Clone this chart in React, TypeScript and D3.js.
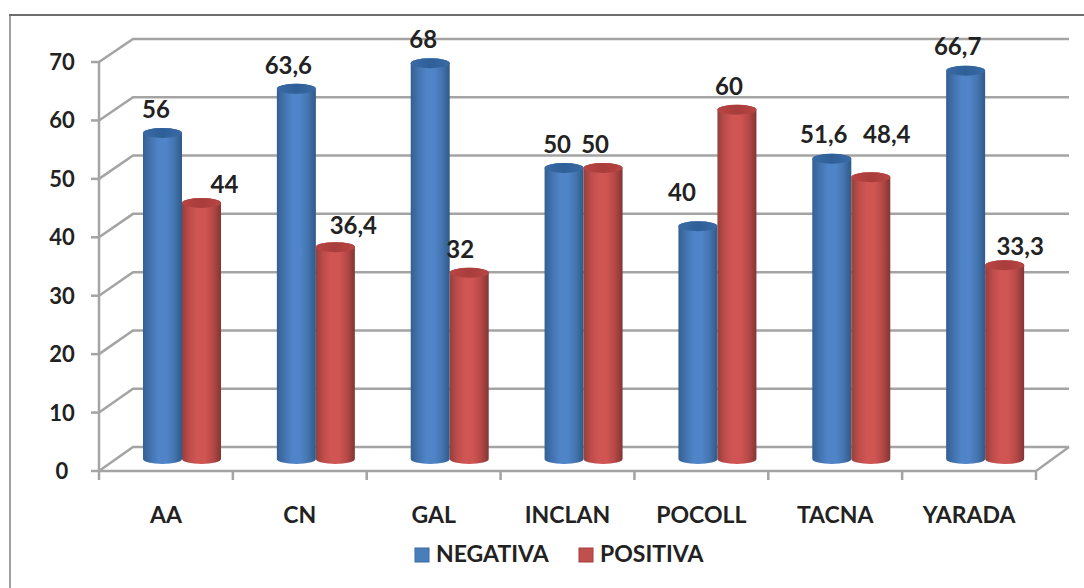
import React from "react";
import * as d3 from "d3";

const categories = ["AA", "CN", "GAL", "INCLAN", "POCOLL", "TACNA", "YARADA"];
const negativa = [56, 63.6, 68, 50, 40, 51.6, 66.7];
const positiva = [44, 36.4, 32, 50, 60, 48.4, 33.3];
const ticks = [0, 10, 20, 30, 40, 50, 60, 70];
const seriesNames = ["NEGATIVA", "POSITIVA"];

// Hand-placed nudges for the value labels, as Excel leaves them [dx, dy].
const negLabelNudge = [[-6.5, -15], [-8, -15], [-7, -15], [-7, -15], [-16, -25], [-8, -16], [-8, -16]];
const posLabelNudge = [[23, -10], [18, -13], [-9, -15], [-8, -15], [-8, -15], [16, -34], [15.5, -10]];

const W = 1084;
const H = 588;

// Front edge of the 3D box, back wall, and the cylinder baseline.
const x = d3.scaleBand<string>().domain(categories).range([99, 1036]);
const yFront = d3.scaleLinear().domain([0, 70]).range([471, 62]);
const yBack = d3.scaleLinear().domain([0, 70]).range([447, 39]);
const yBar = d3.scaleLinear().domain([0, 70]).range([459, 51.6]);

const depthX = 34;
const barW = 39;
const barInset = 44;
const ry = 5;

const GRID = "#a4a4a4";
const INK = "#222222";
const FONT = "Lato, 'Open Sans', sans-serif";

function cylinderBody(x0: number, top: number, base: number) {
  const r = barW / 2;
  return `M${x0},${top} L${x0},${base} A${r},${ry} 0 0 0 ${x0 + barW},${base} L${x0 + barW},${top} A${r},${ry} 0 0 0 ${x0},${top} Z`;
}

function Cylinder({ x0, value, fill, cap }: { x0: number; value: number; fill: string; cap: string }) {
  const top = yBar(value);
  const base = yBar(0);
  return (
    <g>
      <path d={cylinderBody(x0, top, base)} fill={`url(#${fill})`} />
      <ellipse cx={x0 + barW / 2} cy={top} rx={barW / 2} ry={ry} fill={`url(#${cap})`} />
    </g>
  );
}

function Gradient({ id, stops }: { id: string; stops: string[] }) {
  const pos = d3.scaleLinear().domain([0, stops.length - 1]).range([0, 100]);
  return (
    <linearGradient id={id} x1="0" x2="1" y1="0" y2="0">
      {stops.map((c, i) => (
        <stop key={i} offset={`${pos(i)}%`} stopColor={c} />
      ))}
    </linearGradient>
  );
}

export default function App() {
  const step = x.step();
  const left = x.range()[0];
  const right = x.range()[1];
  const textBase = { fontFamily: FONT, fontWeight: 700, fill: INK, textAnchor: "middle" as const };

  return (
    <svg
      width={W}
      height={H}
      viewBox={`0 0 ${W} ${H}`}
      style={{ position: "absolute", left: 0, top: 0, background: "#fff" }}
    >
      <defs>
        <Gradient id="blueBody" stops={["#345f92", "#4374b0", "#4f84c8", "#4f84c8", "#4475b0", "#2f5a88"]} />
        <Gradient id="redBody" stops={["#94403d", "#bf4d4b", "#d05654", "#cf5452", "#b54846", "#823634"]} />
        <Gradient id="blueCap" stops={["#3a6ba6", "#2f5f97", "#3a6ba6"]} />
        <Gradient id="redCap" stops={["#b84543", "#a83d3b", "#b84543"]} />
      </defs>

      {/* outer chart frame: only the top and left edges are visible */}
      <line x1={10} x2={10} y1={15} y2={H} stroke="#a0a0a0" strokeWidth={2} />
      <line x1={9} x2={W} y1={15} y2={15} stroke="#6e6e6e" strokeWidth={2} />

      {/* back wall gridlines and side wall diagonals */}
      {ticks.map((t) => (
        <g key={t} stroke={GRID} strokeWidth={2.5} fill="none">
          <path d={`M${left},${yFront(t)} L${left + depthX},${yBack(t)} L1069,${yBack(t)}`} />
          <line x1={left - 8} x2={left} y1={yFront(t)} y2={yFront(t)} />
        </g>
      ))}

      {/* front axes and floor edge */}
      <g stroke={GRID} strokeWidth={2.5} fill="none">
        <line x1={left} x2={left} y1={yFront(70)} y2={yFront(0)} />
        <path d={`M${left},${yFront(0)} L${right},${yFront(0)} L1069,${yBack(0)}`} />
        {d3.range(categories.length + 1).map((i) => (
          <line key={i} x1={left + i * step} x2={left + i * step} y1={yFront(0)} y2={yFront(0) + 9} />
        ))}
      </g>

      {/* cylinders */}
      {categories.map((c, i) => {
        const x0 = (x(c) as number) + barInset;
        return (
          <g key={c}>
            <Cylinder x0={x0} value={negativa[i]} fill="blueBody" cap="blueCap" />
            <Cylinder x0={x0 + barW} value={positiva[i]} fill="redBody" cap="redCap" />
          </g>
        );
      })}

      {/* value axis labels */}
      {ticks.map((t) => (
        <text key={t} {...textBase} x={62} y={yFront(t) + 8} fontSize={22}>
          {t}
        </text>
      ))}

      {/* category labels */}
      {categories.map((c) => (
        <text key={c} {...textBase} x={(x(c) as number) + step / 2} y={523} fontSize={23}>
          {c}
        </text>
      ))}

      {/* value labels */}
      {categories.map((c, i) => {
        const x0 = (x(c) as number) + barInset;
        const fmt = (v: number) => String(v).replace(".", ",");
        return (
          <g key={c}>
            <text
              {...textBase}
              x={x0 + barW / 2 + negLabelNudge[i][0]}
              y={yBar(negativa[i]) + negLabelNudge[i][1]}
              fontSize={24}
            >
              {fmt(negativa[i])}
            </text>
            <text
              {...textBase}
              x={x0 + barW * 1.5 + posLabelNudge[i][0]}
              y={yBar(positiva[i]) + posLabelNudge[i][1]}
              fontSize={24}
            >
              {fmt(positiva[i])}
            </text>
          </g>
        );
      })}

      {/* legend */}
      <rect x={415} y={548} width={14} height={14} fill="#4a7ebb" stroke="#3a6aa3" />
      <text {...textBase} textAnchor="start" x={436} y={562} fontSize={23}>
        {seriesNames[0]}
      </text>
      <rect x={579} y={548} width={14} height={14} fill="#c0504d" stroke="#a03f3d" />
      <text {...textBase} textAnchor="start" x={600} y={562} fontSize={23}>
        {seriesNames[1]}
      </text>
    </svg>
  );
}
